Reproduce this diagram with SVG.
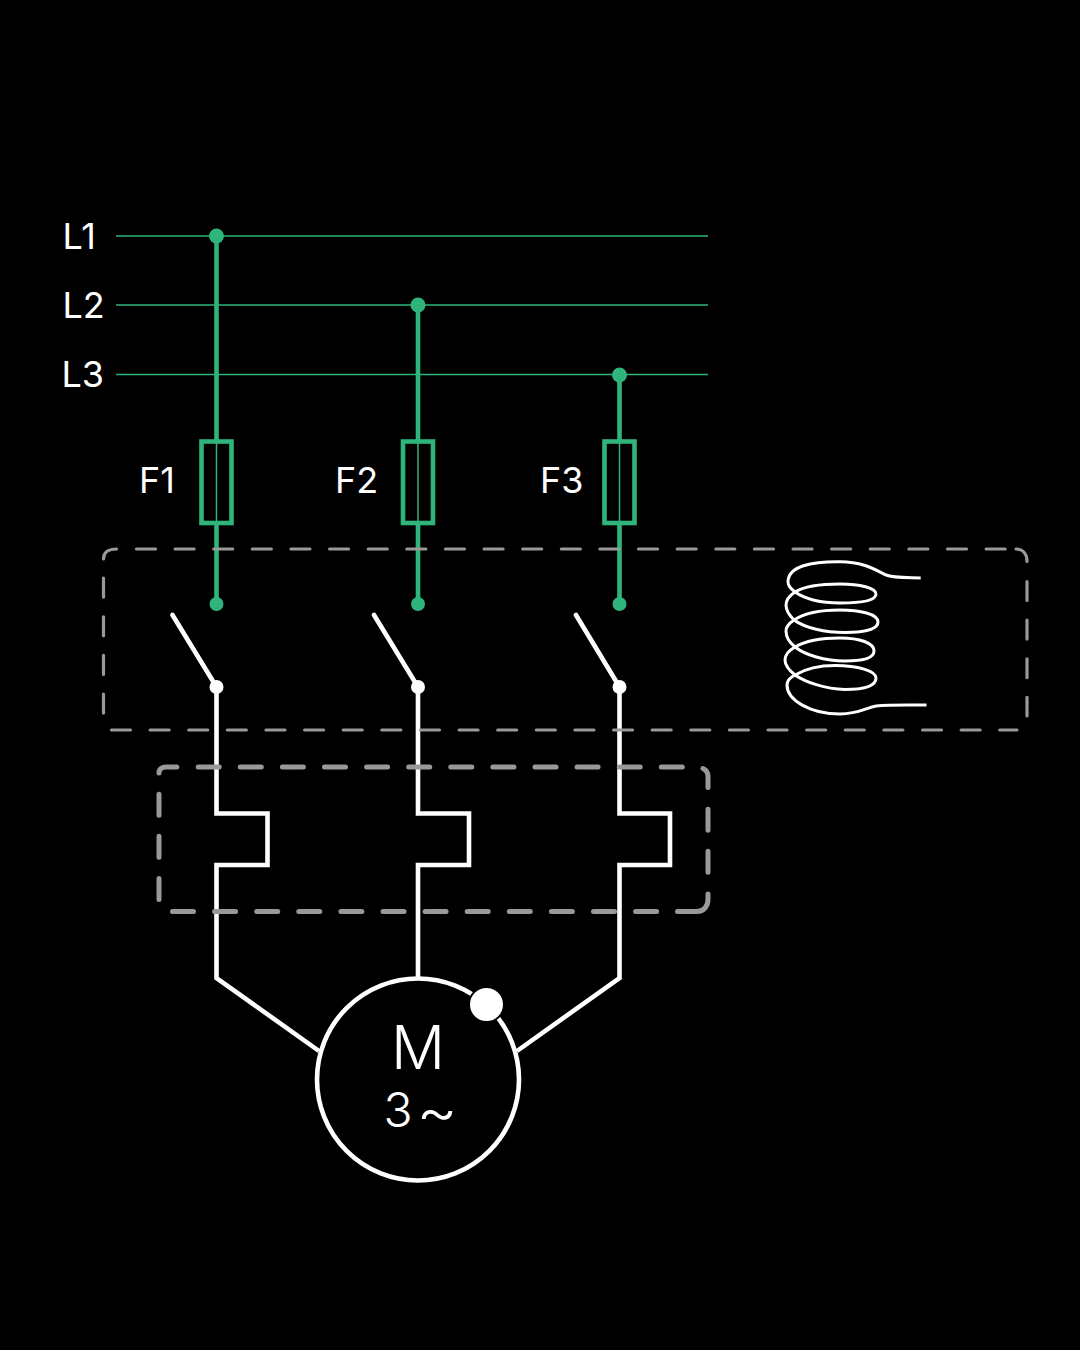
<svg xmlns="http://www.w3.org/2000/svg" width="1080" height="1350" viewBox="0 0 1080 1350">
<style>
.t{font-family:Inter,"Liberation Sans",sans-serif;fill:#fff;font-size:36px}
.bus{stroke:#2fb57b;stroke-width:1.600;fill:none}
.g{stroke:#2fb57b;stroke-width:4.600;fill:none}
.gt{stroke:#2fb57b;stroke-width:1.500;fill:none}
.gd{fill:#2fb57b}
.w{stroke:#fff;stroke-width:4.600;fill:none}
.wd{fill:#fff}
.b1{stroke:#999;stroke-width:3.200;fill:none;stroke-linecap:round}
.b2{stroke:#999;stroke-width:5;fill:none;stroke-linecap:round}
.d1{stroke-dasharray:19 19.620}
.d2{stroke-dasharray:21 21.100}
</style>
<rect width="1080" height="1350" fill="#000"/>
<g id="connectors">
<path class="g" d="M216.500 236V441M216.500 524V604M418 305V441M418 524V604M619.500 375V441M619.500 524V604"/>
<path class="bus" d="M116 236H708M116 305H708M116 374.500H708"/>
<path class="w" stroke-linejoin="miter" d="M216.500 687V813.500H267.500V865H216.500V978L319 1051M418 687V813.500H469V865H418V978M619.500 687V813.500H670V865H619.500V978L517 1051"/>
</g>
<g id="L1"><text class="t" x="62.500" y="249">L1</text><circle class="gd" cx="216.500" cy="236" r="7.500"/></g>
<g id="L2"><text class="t" x="62.500" y="318">L2</text><circle class="gd" cx="418" cy="305" r="7.500"/></g>
<g id="L3"><text class="t" x="61.500" y="387">L3</text><circle class="gd" cx="619.500" cy="375" r="7.500"/></g>
<g id="F1"><text class="t" x="139" y="493">F1</text><rect class="g" x="201.500" y="441.500" width="30" height="81.500"/><path class="gt" d="M216.500 441V524"/><circle class="gd" cx="216.500" cy="604" r="7"/></g>
<g id="F2"><text class="t" x="335" y="493">F2</text><rect class="g" x="403" y="441.500" width="30" height="81.500"/><path class="gt" d="M418 441V524"/><circle class="gd" cx="418" cy="604" r="7"/></g>
<g id="F3"><text class="t" x="540" y="493">F3</text><rect class="g" x="604.500" y="441.500" width="30" height="81.500"/><path class="gt" d="M619.500 441V524"/><circle class="gd" cx="619.500" cy="604" r="7"/></g>
<g id="contactor">
<path class="b1 d1" d="M136.500 549H1006M1027 581.500V716M111.500 730H1017M103.500 578.200V714"/>
<path class="b1" d="M103.500 559C103.500 552 109 549 116.500 549M1016 549C1023 549 1027 554 1027 561.500"/>
<path class="w" stroke-linecap="round" d="M172.500 615L216.500 687M374 615L418 687M576 615L619.500 687"/>
<circle class="wd" cx="216.500" cy="687" r="7"/><circle class="wd" cx="418" cy="687" r="7"/><circle class="wd" cx="619.500" cy="687" r="7"/>
<path fill="none" stroke="#fff" stroke-width="3" d="M920.700 578C905 577.500 893 578 886 575C872 568 862 562 840 561.800C812 561.500 788 566 788 582C788 586 791 589 795 592C805 599 822 603 840 603C860 603 876 601 876 594C876 588 860 584 840 584C820 584 803 587 795 592C789 596 786 600 786 605C786 611 790 616 794 620C805 628 825 632.500 845 632.500C862 632.500 878 630 878 622C878 614 860 610 840 610C820 610 803 614 794 620C788 624 786 627 786 631C786 637 790 643 795 647C805 655 825 661 845 661C860 661 874 659 874 651C874 643 860 638 840 638C820 638 805 641 795 647C788 651 785 655 785 660C785 666 790 671 795 675C805 682 825 689 845 689.500C862 689.500 876 687 876 678C876 671 858 665.500 835 665.500C818 665.500 805 669 795 675C789 678 787 681 787 685C787 700 810 714 840 714C858 714 866 708 876 706C890 704.500 905 705 926.500 705"/>
</g>
<g id="overload">
<path class="b2 d2" d="M198.200 767H684M708 809.200V873M172.500 911.500H657M159 794.200V901"/>
<path class="b2" d="M159 773C159 769 162 767 166 767H176.800M703 768.500C706 770 708 773 708 776V787.500M708 894V899C708 906 704 911.500 697 911.500H677.500"/>
</g>
<g id="motor">
<circle cx="418" cy="1079.500" r="101" fill="none" stroke="#fff" stroke-width="4.600"/>
<circle cx="486.500" cy="1004.500" r="17.500" fill="#fff" stroke="#000" stroke-width="2"/>
<text class="t" x="418" y="1069" text-anchor="middle" style="font-size:60px;font-weight:350">M</text>
<text class="t" x="383.500" y="1127" style="font-size:48px;font-weight:350">3<tspan dx="4" dy="5.500" style="font-size:63px">~</tspan></text>
</g>
</svg>
